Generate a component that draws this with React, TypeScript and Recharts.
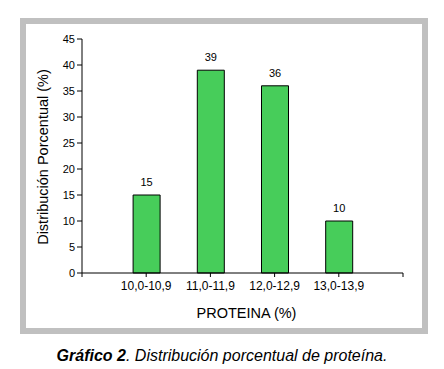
import { BarChart, Bar, XAxis, YAxis, LabelList, Label } from "recharts";

const categories = ["10,0-10,9", "11,0-11,9", "12,0-12,9", "13,0-13,9"];
const percentages = [15, 39, 36, 10];
const yTicks = [0, 5, 10, 15, 20, 25, 30, 35, 40, 45];

const data = categories.map((name, i) => ({ pos: i + 1, name, value: percentages[i] }));

const font = "'Liberation Sans', Arial, sans-serif";

const YTitle = () => {
  const cx = 42.5;
  const cy = 157;
  return (
    <text
      x={cx} y={cy} transform={`rotate(-90, ${cx}, ${cy})`}
      textAnchor="middle" dominantBaseline="central"
      style={{ fontSize: 14.5, fill: "#000", fontFamily: font }}
    >
      Distribución Porcentual (%)
    </text>
  );
};

export default function App() {
  return (
    <div style={{ position: "absolute", left: 0, top: 0, width: 444, height: 369, background: "#fff", fontFamily: font }}>
      <div
        style={{
          position: "absolute", left: 20, top: 18, width: 408, height: 316,
          border: "6px solid #c0c0c0", boxSizing: "border-box"
        }}
      />
      <div style={{ position: "absolute", left: 0, top: 0 }}>
        <BarChart width={444} height={369} data={data} margin={{ top: 39, right: 41, left: 0, bottom: 66 }}>
          <XAxis
            type="number" dataKey="pos" domain={[0, 5]} ticks={[0, 1, 2, 3, 4, 5]}
            tickFormatter={(v) => (v >= 1 && v <= 4 ? categories[v - 1] : "")}
            height={30} tickSize={4} tickMargin={4}
            stroke="#000" tick={{ fontSize: 12, fill: "#000", fontFamily: font }}
          >
            <Label value="PROTEINA (%)" position="insideBottom" offset={-15} dx={4}
              style={{ fontSize: 14.5, fill: "#000", fontFamily: font }} />
          </XAxis>
          <YAxis
            domain={[0, 45]} ticks={yTicks} width={82} tickSize={5} tickMargin={2}
            stroke="#000" tick={{ fontSize: 11, fill: "#000", fontFamily: font }} interval={0}
          >
            <Label content={<YTitle />} />
          </YAxis>
          <Bar dataKey="value" fill="#47cd5a" stroke="#000" strokeWidth={1} barSize={27} isAnimationActive={false}>
            <LabelList dataKey="value" position="top" offset={9} style={{ fontSize: 11, fill: "#000", fontFamily: font }} />
          </Bar>
        </BarChart>
      </div>
      <div style={{ position: "absolute", left: 0, top: 347, width: 444, textAlign: "center", fontSize: 16, fontStyle: "italic", color: "#000" }}>
        <b>Gráfico 2</b>. Distribución porcentual de proteína.
      </div>
    </div>
  );
}
